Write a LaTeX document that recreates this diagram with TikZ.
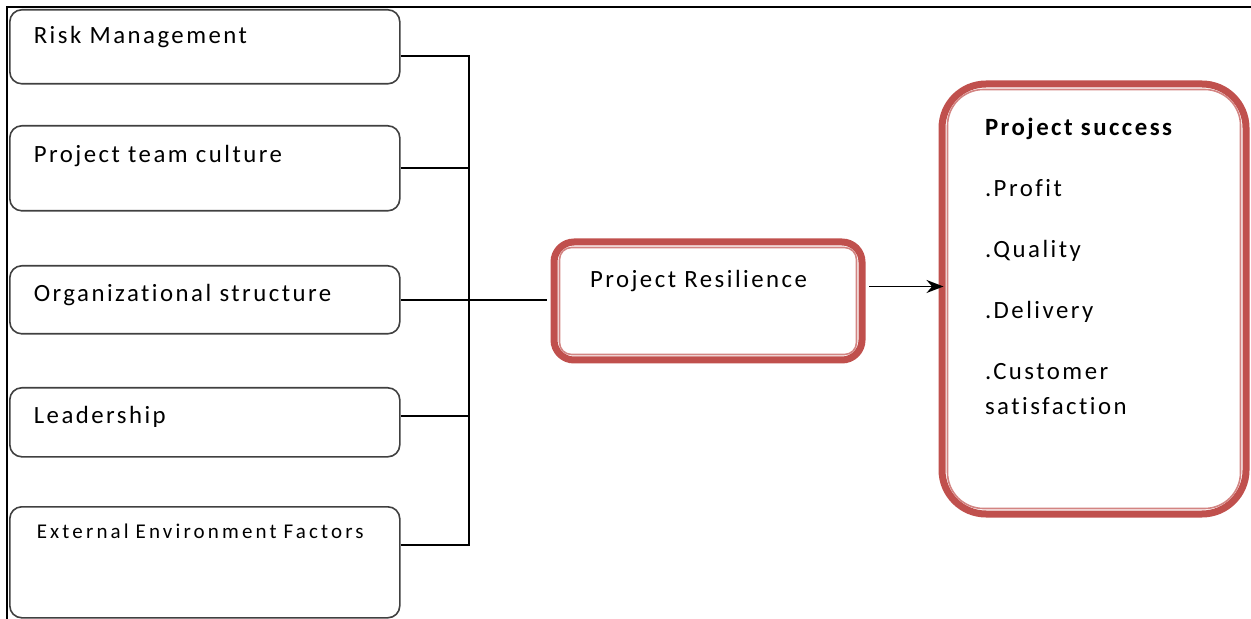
\documentclass[tikz,border=0pt]{standalone}
\usepackage{fontspec}
\setmainfont{Carlito}[LetterSpace=10, WordSpace=0.8, Ligatures=NoCommon]
\usetikzlibrary{positioning,arrows.meta,calc}
\definecolor{boxred}{RGB}{192,80,77}

\tikzset{
  factor/.style={draw=black!75, line width=0.8pt, rounded corners=6pt, anchor=north west,
    align=left, text width=171pt, inner xsep=12pt, inner ysep=0pt,
    font=\fontsize{12.4}{14}\selectfont},
  outcome/.style={draw=boxred, line width=3.5pt, anchor=north west, align=left, inner ysep=0pt,
    font=\fontsize{12.4}{17.5}\selectfont},
  innerline/.style={draw=boxred!70, line width=0.8pt},
  link/.style={draw=black, line width=0.8pt}
}

\begin{document}
\begin{tikzpicture}[x=0.5pt, y=-0.5pt]
  \useasboundingbox (0,0) rectangle (1251,619);

  % frame
  \draw[line width=1pt] (1251,7) -- (7,7) -- (7,619);

  % factors
  \node[factor, text height=17pt, text depth=20pt] (risk) at (9,9) {Risk Management};
  \node[factor, text height=18.5pt, text depth=24pt] (team) at (9,125) {Project team culture};
  \node[factor, text height=18pt, text depth=16pt] (org) at (9,265) {Organizational structure};
  \node[factor, text height=18pt, text depth=16.5pt] (lead) at (9,387) {Leadership};
  \node[factor, text height=16pt, text depth=39.5pt, inner xsep=13.5pt, text width=168pt,
    font=\fontsize{10.5}{12}\selectfont\addfontfeatures{LetterSpace=15}] (ext) at (9,506) {External Environment Factors};

  % resilience and success
  \node[outcome, rounded corners=10pt, text width=118pt, inner xsep=18pt,
    text height=23pt, text depth=36pt] (res) at (550.5,238.5) {Project Resilience};
  \draw[innerline, rounded corners=6pt] ($(res.north west)+(4.5pt,-4.5pt)$) rectangle ($(res.south east)+(-4.5pt,4.5pt)$);

  \node[outcome, rounded corners=22pt, text width=109pt, inner xsep=21.5pt,
    text height=26pt, text depth=189pt] (suc) at (938.5,80.5)
    {\textbf{Project success}\\[13pt] .Profit\\[13pt] .Quality\\[13pt] .Delivery\\[13pt] .Customer\\ satisfaction};
  \draw[innerline, rounded corners=18pt] ($(suc.north west)+(4.5pt,-4.5pt)$) rectangle ($(suc.south east)+(-4.5pt,4.5pt)$);

  % connectors
  \coordinate (bus) at (469,298);
  \draw[link] ([yshift=-4.5pt]risk.east) -| (bus);
  \draw[link] (team.east) -| (bus);
  \draw[link] ([yshift=3.25pt]lead.east) -| (bus);
  \draw[link] ([yshift=8.75pt]ext.east) -| (bus);
  \draw[link, shorten >=1.75pt] (org.east) -- (org.east -| res.west);
  \draw[link, shorten <=1.75pt, shorten >=-2.5pt, -{Stealth[length=8.5pt, width=6.5pt]}] ([yshift=7.25pt]res.east) -- ([yshift=7.25pt]res.east -| suc.west);

\end{tikzpicture}
\end{document}
